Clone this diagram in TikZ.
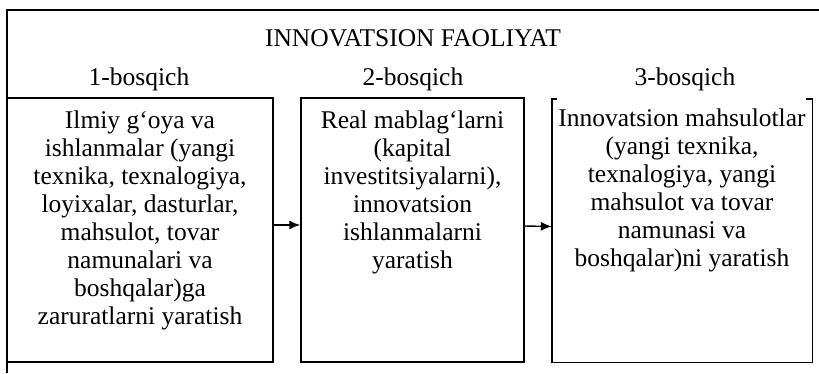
\documentclass[tikz,border=0pt]{standalone}
\usepackage{fontspec}
\setmainfont{Liberation Serif}
\usetikzlibrary{arrows.meta}
\begin{document}
\begin{tikzpicture}[x=1pt,y=-1pt,
  line/.style={line width=1.4pt,black},
  boxshape/.style={rectangle,inner sep=0pt,anchor=center},
  txt/.style={inner sep=0pt,align=center,font=\fontsize{25.5}{28}\selectfont},
  lbl/.style={inner sep=0pt,font=\fontsize{25.5}{28}\selectfont},
  arr/.style={line width=1.4pt,-{Latex[length=11pt,width=9pt]}}]
\useasboundingbox (0,0) rectangle (819,373);
% outer frame
\coordinate (fbl) at (7,373);
\coordinate (ftl) at (7,10);
\coordinate (ftr) at (819,10);
\draw[line] (fbl) -- (ftl) -- (ftr);
% title and stage labels
\node[lbl] (title) at (413,38) {INNOVATSION FAOLIYAT};
\node[lbl] (l1) at (139,79) {1-bosqich};
\node[lbl] (l2) at (413,79) {2-bosqich};
\node[lbl] (l3) at (685,79) {3-bosqich};
% boxes
\node[boxshape,draw,line,minimum width=266pt,minimum height=264pt] (b1) at (140,230) {};
\node[boxshape,draw,line,minimum width=223pt,minimum height=264pt] (b2) at (412.5,230) {};
\node[boxshape,minimum width=260pt,minimum height=263pt] (b3) at (682,230.5) {};
\draw[line] ([xshift=5pt]b3.north west) -- (b3.north west) -- (b3.south west) -- (b3.south east) -- (b3.north east) -- ([xshift=-6pt]b3.north east);
% texts
\node[txt,anchor=north] (t1) at (140,111) {Ilmiy g‘oya va\\ishlanmalar (yangi\\texnika, texnalogiya,\\loyixalar, dasturlar,\\mahsulot, tovar\\namunalari va\\boshqalar)ga\\zaruratlarni yaratish};
\node[txt,anchor=north] (t2) at (412.5,111) {Real mablag‘larni\\(kapital\\investitsiyalarni),\\innovatsion\\ishlanmalarni\\yaratish};
\node[txt,anchor=north] (t3) at (682,109) {Innovatsion mahsulotlar\\(yangi texnika,\\texnalogiya, yangi\\mahsulot va tovar\\namunasi va\\boshqalar)ni yaratish};
% arrows
\draw[arr] ([yshift=5pt]b1.east) -- ([yshift=5pt]b2.west);
\draw[arr] ([yshift=4pt]b2.east) -- ([yshift=4pt]b3.west);
\end{tikzpicture}
\end{document}
